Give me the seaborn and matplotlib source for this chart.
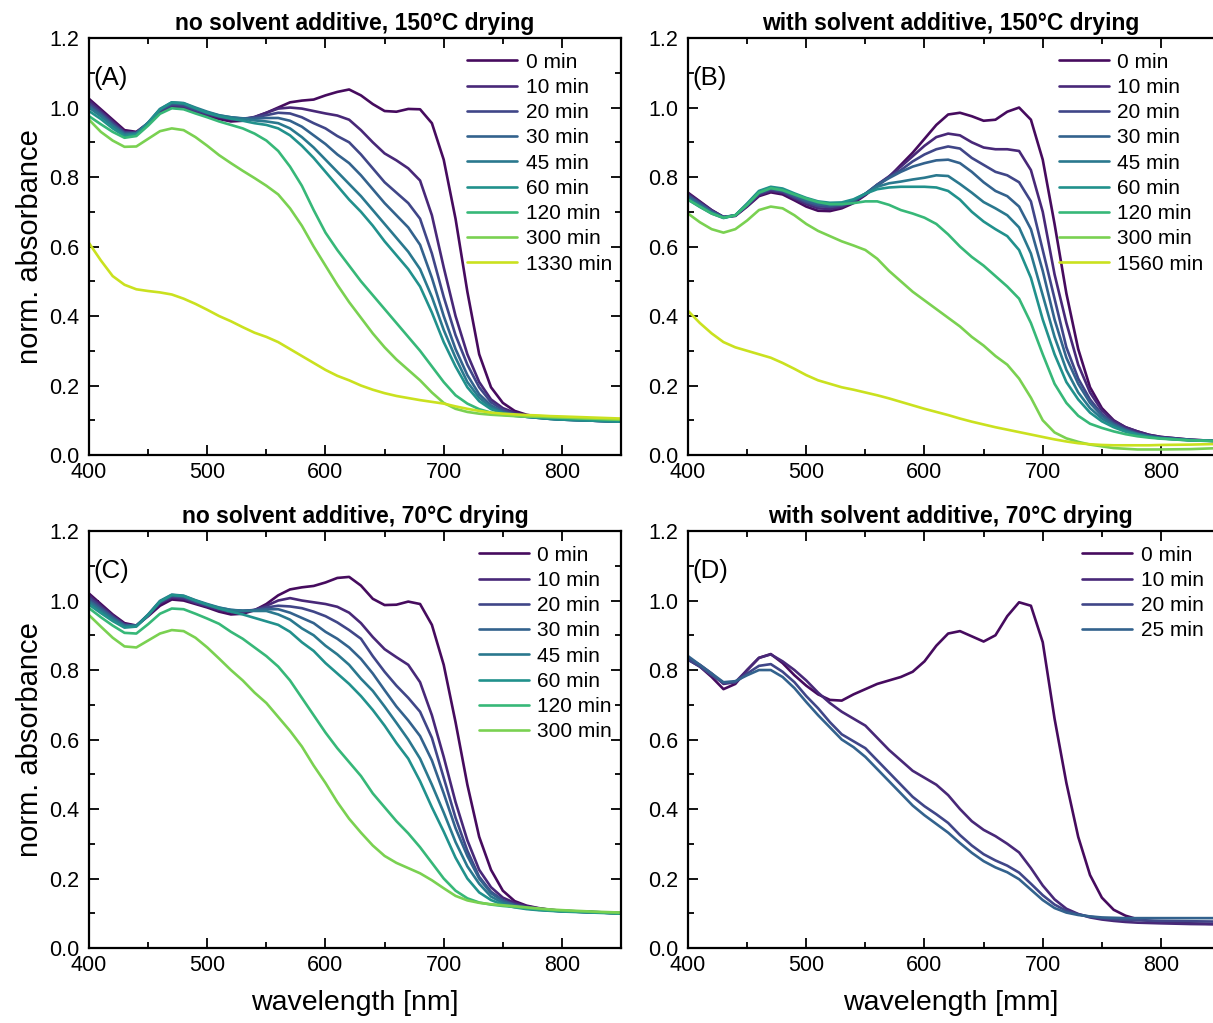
import numpy as np
import pandas as pd
import matplotlib
matplotlib.use("Agg")
import matplotlib.pyplot as plt
from matplotlib.ticker import MultipleLocator, FormatStrFormatter
import seaborn as sns

# wavelength grid (nm) shared by all spectra
wavelength = [400, 410, 420, 430, 440, 450, 460, 470, 480, 490,
              500, 510, 520, 530, 540, 550, 560, 570, 580, 590,
              600, 610, 620, 630, 640, 650, 660, 670, 680, 690,
              700, 710, 720, 730, 740, 750, 760, 770, 780, 790,
              800, 825, 850]

# (A) no solvent additive, 150 C drying
times_a = ['0 min', '10 min', '20 min', '30 min', '45 min', '60 min', '120 min', '300 min', '1330 min']
a_0 = [1.025, 0.995, 0.965, 0.935, 0.930, 0.955, 0.985, 1.000, 0.997, 0.987,
       0.977, 0.967, 0.960, 0.962, 0.972, 0.985, 1.000, 1.015, 1.020, 1.023,
       1.035, 1.045, 1.052, 1.035, 1.010, 0.990, 0.988, 0.996, 0.995, 0.955,
       0.850, 0.680, 0.470, 0.290, 0.195, 0.150, 0.127, 0.116, 0.110, 0.106,
       0.104, 0.100, 0.097]
a_10 = [1.020, 0.990, 0.960, 0.930, 0.928, 0.955, 0.990, 1.005, 1.002, 0.990,
        0.980, 0.972, 0.966, 0.966, 0.973, 0.985, 0.997, 1.000, 0.997, 0.990,
        0.983, 0.977, 0.965, 0.935, 0.900, 0.868, 0.848, 0.825, 0.790, 0.690,
        0.540, 0.400, 0.290, 0.210, 0.160, 0.135, 0.122, 0.114, 0.109, 0.105,
        0.103, 0.099, 0.096]
a_20 = [1.012, 0.985, 0.955, 0.928, 0.927, 0.955, 0.992, 1.008, 1.006, 0.993,
        0.983, 0.975, 0.970, 0.968, 0.972, 0.978, 0.985, 0.983, 0.972, 0.955,
        0.940, 0.918, 0.900, 0.865, 0.825, 0.785, 0.755, 0.725, 0.680, 0.580,
        0.455, 0.345, 0.260, 0.195, 0.152, 0.130, 0.118, 0.112, 0.108, 0.105,
        0.102, 0.099, 0.096]
a_30 = [1.005, 0.980, 0.950, 0.925, 0.926, 0.956, 0.994, 1.012, 1.010, 0.997,
        0.986, 0.977, 0.972, 0.969, 0.968, 0.970, 0.970, 0.962, 0.945, 0.920,
        0.895, 0.865, 0.840, 0.805, 0.765, 0.725, 0.690, 0.655, 0.605, 0.510,
        0.400, 0.305, 0.230, 0.175, 0.143, 0.125, 0.115, 0.110, 0.107, 0.104,
        0.102, 0.099, 0.096]
a_45 = [1.000, 0.975, 0.947, 0.922, 0.925, 0.957, 0.996, 1.015, 1.013, 1.000,
        0.988, 0.978, 0.972, 0.968, 0.963, 0.960, 0.955, 0.940, 0.915, 0.885,
        0.850, 0.815, 0.780, 0.745, 0.705, 0.665, 0.625, 0.585, 0.535, 0.455,
        0.360, 0.280, 0.210, 0.165, 0.137, 0.122, 0.114, 0.110, 0.107, 0.104,
        0.102, 0.099, 0.096]
a_60 = [0.990, 0.967, 0.940, 0.918, 0.922, 0.955, 0.995, 1.015, 1.012, 0.998,
        0.985, 0.975, 0.968, 0.962, 0.955, 0.950, 0.940, 0.920, 0.890, 0.855,
        0.815, 0.775, 0.735, 0.700, 0.660, 0.615, 0.575, 0.535, 0.485, 0.410,
        0.325, 0.255, 0.195, 0.155, 0.132, 0.120, 0.113, 0.110, 0.107, 0.104,
        0.102, 0.099, 0.096]
a_120 = [0.975, 0.952, 0.930, 0.913, 0.918, 0.948, 0.982, 0.998, 0.995, 0.983,
         0.972, 0.960, 0.950, 0.940, 0.925, 0.905, 0.875, 0.830, 0.775, 0.705,
         0.640, 0.590, 0.545, 0.500, 0.460, 0.420, 0.380, 0.340, 0.300, 0.255,
         0.210, 0.172, 0.148, 0.132, 0.122, 0.116, 0.113, 0.111, 0.110, 0.109,
         0.107, 0.104, 0.101]
a_300 = [0.965, 0.930, 0.905, 0.887, 0.888, 0.910, 0.932, 0.940, 0.935, 0.915,
         0.890, 0.863, 0.840, 0.818, 0.797, 0.775, 0.750, 0.710, 0.660, 0.600,
         0.545, 0.490, 0.440, 0.395, 0.350, 0.310, 0.275, 0.245, 0.215, 0.180,
         0.150, 0.133, 0.124, 0.119, 0.116, 0.114, 0.112, 0.111, 0.110, 0.109,
         0.108, 0.105, 0.102]
a_1330 = [0.610, 0.560, 0.515, 0.490, 0.477, 0.472, 0.468, 0.462, 0.450, 0.435,
          0.418, 0.400, 0.385, 0.368, 0.352, 0.340, 0.325, 0.305, 0.285, 0.265,
          0.245, 0.228, 0.215, 0.200, 0.188, 0.178, 0.170, 0.164, 0.158, 0.153,
          0.148, 0.140, 0.133, 0.127, 0.122, 0.119, 0.117, 0.115, 0.114, 0.112,
          0.111, 0.108, 0.105]

# (B) with solvent additive, 150 C drying
times_b = ['0 min', '10 min', '20 min', '30 min', '45 min', '60 min', '120 min', '300 min', '1560 min']
b_0 = [0.755, 0.730, 0.705, 0.685, 0.688, 0.715, 0.745, 0.756, 0.750, 0.733,
       0.715, 0.703, 0.702, 0.710, 0.725, 0.748, 0.775, 0.800, 0.835, 0.870,
       0.910, 0.950, 0.980, 0.985, 0.975, 0.962, 0.965, 0.988, 1.000, 0.965,
       0.850, 0.665, 0.465, 0.305, 0.195, 0.135, 0.100, 0.080, 0.068, 0.058,
       0.052, 0.044, 0.040]
b_10 = [0.752, 0.728, 0.704, 0.685, 0.689, 0.717, 0.748, 0.760, 0.755, 0.738,
        0.722, 0.710, 0.708, 0.714, 0.728, 0.750, 0.778, 0.802, 0.830, 0.860,
        0.890, 0.915, 0.925, 0.920, 0.900, 0.885, 0.880, 0.880, 0.875, 0.820,
        0.700, 0.520, 0.380, 0.260, 0.180, 0.128, 0.098, 0.080, 0.068, 0.058,
        0.052, 0.044, 0.040]
b_20 = [0.748, 0.725, 0.702, 0.685, 0.690, 0.718, 0.752, 0.764, 0.758, 0.742,
        0.727, 0.716, 0.714, 0.718, 0.730, 0.752, 0.778, 0.800, 0.820, 0.845,
        0.865, 0.880, 0.888, 0.882, 0.855, 0.835, 0.815, 0.805, 0.785, 0.730,
        0.590, 0.450, 0.310, 0.220, 0.160, 0.118, 0.092, 0.075, 0.063, 0.055,
        0.050, 0.043, 0.040]
b_30 = [0.745, 0.722, 0.700, 0.684, 0.690, 0.720, 0.755, 0.767, 0.761, 0.746,
        0.731, 0.721, 0.718, 0.721, 0.732, 0.752, 0.777, 0.797, 0.815, 0.830,
        0.840, 0.848, 0.850, 0.840, 0.815, 0.785, 0.760, 0.745, 0.715, 0.650,
        0.530, 0.390, 0.280, 0.205, 0.150, 0.113, 0.088, 0.072, 0.061, 0.054,
        0.049, 0.043, 0.040]
b_45 = [0.740, 0.718, 0.698, 0.683, 0.690, 0.722, 0.758, 0.770, 0.764, 0.750,
        0.736, 0.726, 0.722, 0.724, 0.734, 0.752, 0.772, 0.782, 0.787, 0.793,
        0.798, 0.805, 0.803, 0.780, 0.755, 0.728, 0.710, 0.690, 0.655, 0.580,
        0.460, 0.340, 0.245, 0.180, 0.135, 0.105, 0.085, 0.070, 0.060, 0.053,
        0.048, 0.043, 0.040]
b_60 = [0.735, 0.714, 0.695, 0.682, 0.690, 0.724, 0.760, 0.772, 0.767, 0.753,
        0.740, 0.730, 0.726, 0.727, 0.736, 0.752, 0.765, 0.770, 0.772, 0.772,
        0.772, 0.770, 0.760, 0.735, 0.700, 0.672, 0.650, 0.630, 0.590, 0.510,
        0.390, 0.290, 0.210, 0.160, 0.122, 0.097, 0.080, 0.067, 0.058, 0.052,
        0.048, 0.042, 0.040]
b_120 = [0.735, 0.715, 0.695, 0.683, 0.690, 0.720, 0.755, 0.768, 0.762, 0.750,
         0.738, 0.728, 0.722, 0.722, 0.725, 0.730, 0.730, 0.720, 0.705, 0.695,
         0.683, 0.665, 0.635, 0.600, 0.570, 0.545, 0.515, 0.485, 0.450, 0.380,
         0.290, 0.205, 0.150, 0.113, 0.090, 0.078, 0.068, 0.060, 0.054, 0.050,
         0.047, 0.042, 0.040]
b_300 = [0.695, 0.670, 0.650, 0.640, 0.650, 0.675, 0.705, 0.715, 0.710, 0.690,
         0.665, 0.645, 0.630, 0.615, 0.603, 0.590, 0.565, 0.530, 0.500, 0.470,
         0.445, 0.420, 0.395, 0.370, 0.340, 0.315, 0.285, 0.260, 0.220, 0.165,
         0.100, 0.065, 0.048, 0.038, 0.030, 0.025, 0.020, 0.018, 0.016, 0.016,
         0.016, 0.017, 0.020]
b_1560 = [0.415, 0.380, 0.350, 0.325, 0.310, 0.300, 0.290, 0.280, 0.265, 0.248,
          0.230, 0.215, 0.205, 0.195, 0.188, 0.180, 0.172, 0.163, 0.153, 0.143,
          0.133, 0.124, 0.115, 0.105, 0.096, 0.088, 0.080, 0.073, 0.066, 0.059,
          0.052, 0.045, 0.039, 0.034, 0.031, 0.029, 0.028, 0.028, 0.028, 0.028,
          0.029, 0.030, 0.032]

# (C) no solvent additive, 70 C drying
times_c = ['0 min', '10 min', '20 min', '30 min', '45 min', '60 min', '120 min', '300 min']
c_0 = [1.020, 0.990, 0.960, 0.935, 0.928, 0.955, 0.985, 1.003, 1.000, 0.990,
       0.980, 0.968, 0.960, 0.962, 0.972, 0.990, 1.015, 1.032, 1.038, 1.042,
       1.052, 1.065, 1.068, 1.043, 1.005, 0.987, 0.988, 0.997, 0.990, 0.930,
       0.815, 0.650, 0.470, 0.320, 0.225, 0.165, 0.135, 0.122, 0.115, 0.110,
       0.107, 0.104, 0.100]
c_10 = [1.015, 0.985, 0.957, 0.932, 0.927, 0.957, 0.992, 1.008, 1.005, 0.993,
        0.983, 0.973, 0.967, 0.967, 0.973, 0.985, 1.000, 1.007, 1.000, 0.995,
        0.990, 0.982, 0.965, 0.935, 0.895, 0.860, 0.837, 0.815, 0.765, 0.670,
        0.550, 0.420, 0.310, 0.225, 0.175, 0.145, 0.130, 0.120, 0.114, 0.110,
        0.107, 0.103, 0.100]
c_20 = [1.008, 0.980, 0.953, 0.930, 0.927, 0.958, 0.995, 1.012, 1.009, 0.996,
        0.986, 0.977, 0.971, 0.970, 0.973, 0.980, 0.985, 0.983, 0.978, 0.968,
        0.955, 0.937, 0.915, 0.890, 0.840, 0.795, 0.755, 0.720, 0.680, 0.605,
        0.490, 0.375, 0.280, 0.205, 0.162, 0.138, 0.125, 0.117, 0.112, 0.109,
        0.106, 0.103, 0.100]
c_30 = [1.000, 0.975, 0.950, 0.928, 0.927, 0.959, 0.997, 1.015, 1.012, 0.999,
        0.988, 0.979, 0.973, 0.971, 0.972, 0.975, 0.975, 0.965, 0.950, 0.935,
        0.910, 0.890, 0.865, 0.832, 0.790, 0.742, 0.695, 0.655, 0.610, 0.540,
        0.445, 0.345, 0.265, 0.200, 0.158, 0.135, 0.123, 0.116, 0.111, 0.108,
        0.106, 0.103, 0.100]
c_45 = [0.995, 0.970, 0.946, 0.926, 0.927, 0.960, 0.999, 1.017, 1.014, 1.001,
        0.990, 0.980, 0.973, 0.970, 0.970, 0.970, 0.960, 0.945, 0.920, 0.900,
        0.870, 0.845, 0.815, 0.775, 0.740, 0.695, 0.648, 0.600, 0.545, 0.470,
        0.390, 0.305, 0.235, 0.185, 0.148, 0.130, 0.120, 0.114, 0.110, 0.108,
        0.106, 0.103, 0.100]
c_60 = [0.988, 0.964, 0.941, 0.922, 0.925, 0.958, 0.997, 1.016, 1.013, 1.000,
        0.988, 0.977, 0.968, 0.960, 0.950, 0.940, 0.930, 0.910, 0.880, 0.855,
        0.820, 0.790, 0.760, 0.725, 0.685, 0.640, 0.590, 0.545, 0.480, 0.405,
        0.335, 0.260, 0.200, 0.160, 0.138, 0.125, 0.117, 0.112, 0.109, 0.107,
        0.105, 0.102, 0.099]
c_120 = [0.978, 0.952, 0.928, 0.907, 0.905, 0.932, 0.962, 0.977, 0.975, 0.962,
         0.948, 0.933, 0.910, 0.890, 0.865, 0.840, 0.810, 0.770, 0.720, 0.670,
         0.620, 0.575, 0.535, 0.495, 0.445, 0.405, 0.365, 0.330, 0.290, 0.245,
         0.200, 0.165, 0.143, 0.131, 0.125, 0.121, 0.118, 0.115, 0.112, 0.109,
         0.107, 0.104, 0.100]
c_300 = [0.958, 0.925, 0.893, 0.868, 0.865, 0.885, 0.905, 0.915, 0.912, 0.893,
         0.865, 0.833, 0.800, 0.770, 0.735, 0.705, 0.665, 0.625, 0.580, 0.525,
         0.475, 0.420, 0.372, 0.332, 0.295, 0.265, 0.245, 0.230, 0.215, 0.195,
         0.172, 0.150, 0.137, 0.130, 0.126, 0.123, 0.120, 0.117, 0.114, 0.111,
         0.109, 0.105, 0.102]

# (D) with solvent additive, 70 C drying
times_d = ['0 min', '10 min', '20 min', '25 min']
d_0 = [0.830, 0.810, 0.780, 0.745, 0.760, 0.800, 0.835, 0.846, 0.820, 0.785,
       0.755, 0.730, 0.714, 0.712, 0.730, 0.745, 0.760, 0.770, 0.780, 0.795,
       0.825, 0.870, 0.905, 0.912, 0.897, 0.882, 0.900, 0.955, 0.995, 0.985,
       0.880, 0.660, 0.475, 0.320, 0.210, 0.145, 0.110, 0.093, 0.083, 0.078,
       0.075, 0.071, 0.069]
d_10 = [0.835, 0.815, 0.790, 0.760, 0.765, 0.800, 0.835, 0.845, 0.825, 0.800,
        0.770, 0.735, 0.705, 0.680, 0.660, 0.640, 0.605, 0.570, 0.540, 0.510,
        0.490, 0.470, 0.440, 0.400, 0.365, 0.340, 0.322, 0.300, 0.275, 0.230,
        0.180, 0.140, 0.113, 0.098, 0.088, 0.082, 0.078, 0.075, 0.073, 0.072,
        0.071, 0.069, 0.068]
d_20 = [0.830, 0.810, 0.785, 0.763, 0.765, 0.790, 0.812, 0.817, 0.795, 0.765,
        0.725, 0.690, 0.650, 0.615, 0.595, 0.575, 0.540, 0.505, 0.470, 0.435,
        0.408, 0.385, 0.360, 0.325, 0.295, 0.270, 0.252, 0.237, 0.217, 0.185,
        0.152, 0.125, 0.107, 0.097, 0.090, 0.086, 0.083, 0.081, 0.080, 0.079,
        0.078, 0.077, 0.076]
d_25 = [0.840, 0.815, 0.790, 0.765, 0.768, 0.785, 0.800, 0.800, 0.780, 0.748,
        0.708, 0.670, 0.635, 0.600, 0.578, 0.550, 0.515, 0.480, 0.445, 0.410,
        0.382, 0.357, 0.332, 0.302, 0.274, 0.250, 0.232, 0.218, 0.198, 0.168,
        0.138, 0.115, 0.102, 0.095, 0.091, 0.088, 0.087, 0.086, 0.086, 0.086,
        0.086, 0.086, 0.086]

sns.set_theme(style="ticks")
plt.rcParams['font.family'] = ['Liberation Sans', 'DejaVu Sans']
plt.rcParams['text.color'] = 'black'
plt.rcParams['axes.labelcolor'] = 'black'
plt.rcParams['xtick.color'] = 'black'
plt.rcParams['ytick.color'] = 'black'

cmap = sns.color_palette("viridis", as_cmap=True)
col_pos = [0.03, 0.11, 0.21, 0.31, 0.40, 0.50, 0.67, 0.80, 0.92]
colors = [cmap(p) for p in col_pos]


def draw_panel(ax, curves, labels, title, tag, xmax, right_spine=True):
    df = pd.DataFrame({
        'wavelength': wavelength * len(curves),
        'absorbance': np.concatenate(curves),
        'time': np.repeat(labels, len(wavelength)),
    })
    sns.lineplot(data=df, x='wavelength', y='absorbance', hue='time',
                 hue_order=labels, palette=colors[:len(labels)],
                 estimator=None, sort=False, linewidth=1.9, legend=False, ax=ax)
    ax.set_xlim(400, xmax)
    ax.set_ylim(0, 1.2)
    ax.xaxis.set_major_locator(MultipleLocator(100))
    ax.xaxis.set_minor_locator(MultipleLocator(50))
    ax.yaxis.set_major_locator(MultipleLocator(0.2))
    ax.yaxis.set_minor_locator(MultipleLocator(0.1))
    ax.yaxis.set_major_formatter(FormatStrFormatter('%.1f'))
    ax.tick_params(which='both', direction='in', top=True, right=right_spine,
                   width=1.3, labelsize=15.5, colors='black')
    ax.tick_params(axis='x', pad=5)
    ax.tick_params(axis='y', pad=7)
    ax.tick_params(which='major', length=7)
    ax.tick_params(which='minor', length=4)
    for s in ax.spines.values():
        s.set_linewidth(1.6)
        s.set_color('black')
    if not right_spine:
        ax.spines['right'].set_visible(False)
    ax.set_xlabel('')
    ax.set_ylabel('')
    ax.set_title(title, fontsize=16.5, fontweight='bold', pad=6, color='black')
    ax.text(0.008, 0.905, tag, transform=ax.transAxes, fontsize=18.5, va='center', ha='left')
    ax.legend(ax.lines, labels, loc='upper right', bbox_to_anchor=(1.01, 1.0),
              frameon=False, fontsize=15, handlelength=2.4, handletextpad=0.4,
              labelspacing=0.3, borderaxespad=0.3)


fig = plt.figure(figsize=(12.13, 10.23), dpi=100)
ax_a = fig.add_axes([0.0734, 0.5552, 0.4386, 0.4076])
ax_b = fig.add_axes([0.5672, 0.5552, 0.4328, 0.4076])
ax_c = fig.add_axes([0.0734, 0.0733, 0.4386, 0.4076])
ax_d = fig.add_axes([0.5672, 0.0733, 0.4328, 0.4076])

draw_panel(ax_a, [a_0, a_10, a_20, a_30, a_45, a_60, a_120, a_300, a_1330], times_a,
           'no solvent additive, 150°C drying', '(A)', 850)
draw_panel(ax_b, [b_0, b_10, b_20, b_30, b_45, b_60, b_120, b_300, b_1560], times_b,
           'with solvent additive, 150°C drying', '(B)', 844, right_spine=False)
draw_panel(ax_c, [c_0, c_10, c_20, c_30, c_45, c_60, c_120, c_300], times_c,
           'no solvent additive, 70°C drying', '(C)', 850)
draw_panel(ax_d, [d_0, d_10, d_20, d_25], times_d,
           'with solvent additive, 70°C drying', '(D)', 844, right_spine=False)

for ax in (ax_a, ax_c):
    ax.set_ylabel('norm. absorbance', fontsize=21)
    ax.yaxis.set_label_coords(-0.085, 0.5)
ax_c.set_xlabel('wavelength [nm]', fontsize=20.5)
ax_c.xaxis.set_label_coords(0.5, -0.10)
ax_d.set_xlabel('wavelength [mm]', fontsize=20.5)
ax_d.xaxis.set_label_coords(0.5, -0.10)

fig.savefig('out.png', dpi=100)
